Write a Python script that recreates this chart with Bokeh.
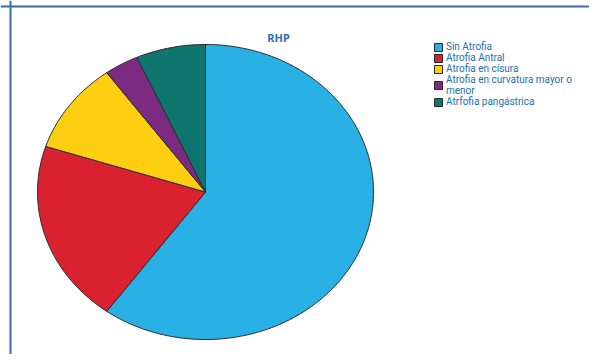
import math
from bokeh.plotting import figure
from bokeh.models import Range1d, Legend, LegendItem, Label, Span
from bokeh.embed import file_html
from bokeh.resources import INLINE

title_text = "RHP"
categories = ["Sin Atrofia", "Atrofia Antral", "Atrofia en císura",
              "Atrofia en curvatura mayor o\nmenor", "Atrfofia pangástrica"]
values = [60.0, 20.0, 10.0, 3.3, 6.7]
colors = ["#29b1e6", "#da212f", "#fdcf10", "#7c2b83", "#0f756f"]

W, H = 589, 354
cx_px, cy_px = 205.0, 191.5
rx_px, ry_px = 168.0, 147.5

x0 = -cx_px / rx_px
x1 = (W - cx_px) / rx_px
y1 = cy_px / ry_px
y0 = -(H - cy_px) / ry_px

p = figure(width=W, height=H, output_backend="svg", toolbar_location=None,
           x_range=Range1d(x0, x1), y_range=Range1d(y0, y1),
           min_border=0, outline_line_color=None)
p.axis.visible = False
p.grid.visible = False
p.background_fill_color = "white"
p.border_fill_color = "white"

total = sum(values)
start = 0.0
renderers = []
for v, c in zip(values, colors):
    end = start + v / total * 2 * math.pi
    n = max(3, int((end - start) / (2 * math.pi) * 360))
    xs = [0.0] + [math.sin(start + (end - start) * i / n) for i in range(n + 1)] + [0.0]
    ys = [0.0] + [math.cos(start + (end - start) * i / n) for i in range(n + 1)] + [0.0]
    r = p.patch(xs, ys, fill_color=c, line_color="#2a2a2a", line_width=1)
    renderers.append(r)
    start = end

items = [LegendItem(label=lab, renderers=[r]) for lab, r in zip(categories, renderers)]
legend = Legend(items=items, location=(433, 247), orientation="vertical",
                label_text_font="Roboto", label_text_font_size="10px",
                label_text_line_height=0.85,
                label_text_color="#1a6fb6", label_height=10, label_standoff=3,
                glyph_width=10, glyph_height=10, spacing=0, padding=0, margin=0,
                border_line_color=None, background_fill_alpha=0)
p.add_layout(legend, "center")

p.add_layout(Label(x=x0 + 278 / rx_px, y=y1 - 37 / ry_px, text=title_text,
                   text_align="center", text_baseline="middle",
                   text_font="Noto Sans", text_font_style="bold",
                   text_font_size="11px", text_color="#2b6db3"))

p.add_layout(Span(location=x0 + 10 / rx_px, dimension="height",
                  line_color="#3a6cb0", line_width=2))
p.add_layout(Span(location=y1 - 6 / ry_px, dimension="width",
                  line_color="#3a6cb0", line_width=2))

open("out.html", "w").write(file_html(p, INLINE))
